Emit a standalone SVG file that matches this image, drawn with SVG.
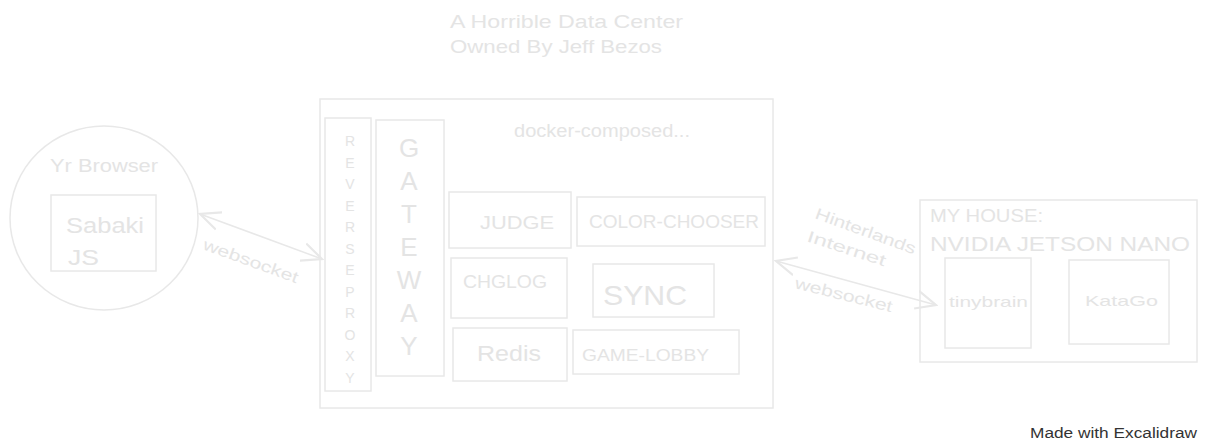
<svg xmlns="http://www.w3.org/2000/svg" width="1207" height="443" viewBox="0 0 1207 443">
<style>
.s{fill:none;stroke:#e8e8e8;stroke-width:1.5}
.t{fill:#e4e4e4;font-family:"Liberation Sans",Arial,sans-serif}
.c{text-anchor:middle}
</style>
<defs>
<marker id="ah" viewBox="0 0 12 12" refX="11" refY="6" markerWidth="22" markerHeight="22" markerUnits="userSpaceOnUse" orient="auto-start-reverse">
<path d="M0,1 L11,6 L0,11" fill="none" stroke="#e8e8e8" stroke-width="1.2"/>
</marker>
</defs>
<rect width="1207" height="443" fill="#ffffff"/>
<g id="title">
<text class="t" x="450" y="28" font-size="19" textLength="233" lengthAdjust="spacingAndGlyphs">A Horrible Data Center</text>
<text class="t" x="450" y="53" font-size="19" textLength="212" lengthAdjust="spacingAndGlyphs">Owned By Jeff Bezos</text>
</g>
<g id="browser">
<ellipse class="s" cx="104" cy="218" rx="94" ry="92"/>
<text class="t" x="50" y="172" font-size="18" textLength="108" lengthAdjust="spacingAndGlyphs">Yr Browser</text>
</g>
<g id="sabaki">
<rect class="s" x="51" y="195" width="105" height="76"/>
<text class="t" x="66" y="233" font-size="22" textLength="78" lengthAdjust="spacingAndGlyphs">Sabaki</text>
<text class="t" x="68" y="265" font-size="22" textLength="31" lengthAdjust="spacingAndGlyphs">JS</text>
</g>
<g id="datacenter">
<rect class="s" x="320" y="99" width="453" height="309"/>
<text class="t" x="514" y="137" font-size="18" textLength="176" lengthAdjust="spacingAndGlyphs">docker-composed...</text>
</g>
<g id="reverseproxy">
<rect class="s" x="325" y="118" width="46" height="273"/>
<text class="t c" font-size="14">
<tspan x="350" y="146">R</tspan><tspan x="350" y="167.5">E</tspan><tspan x="350" y="189">V</tspan><tspan x="350" y="210.5">E</tspan><tspan x="350" y="232">R</tspan><tspan x="350" y="253.5">S</tspan><tspan x="350" y="275">E</tspan><tspan x="350" y="296.5">P</tspan><tspan x="350" y="318">R</tspan><tspan x="350" y="339.5">O</tspan><tspan x="350" y="361">X</tspan><tspan x="350" y="382.5">Y</tspan>
</text>
</g>
<g id="gateway">
<rect class="s" x="376" y="120" width="68" height="256"/>
<text class="t c" font-size="26">
<tspan x="409" y="157">G</tspan><tspan x="409" y="190">A</tspan><tspan x="409" y="223">T</tspan><tspan x="409" y="256">E</tspan><tspan x="409" y="289">W</tspan><tspan x="409" y="322">A</tspan><tspan x="409" y="355">Y</tspan>
</text>
</g>
<g id="judge">
<rect class="s" x="449" y="192" width="122" height="56"/>
<text class="t" x="480" y="229" font-size="18" textLength="74" lengthAdjust="spacingAndGlyphs">JUDGE</text>
</g>
<g id="colorchooser">
<rect class="s" x="577" y="197" width="188" height="49"/>
<text class="t" x="589" y="228" font-size="18" textLength="170" lengthAdjust="spacingAndGlyphs">COLOR-CHOOSER</text>
</g>
<g id="chglog">
<rect class="s" x="451" y="258" width="116" height="60"/>
<text class="t" x="463" y="288" font-size="18" textLength="84" lengthAdjust="spacingAndGlyphs">CHGLOG</text>
</g>
<g id="sync">
<rect class="s" x="593" y="264" width="121" height="53"/>
<text class="t" x="603" y="305" font-size="28" textLength="84" lengthAdjust="spacingAndGlyphs">SYNC</text>
</g>
<g id="redis">
<rect class="s" x="453" y="328" width="114" height="53"/>
<text class="t" x="477" y="361" font-size="22" textLength="64" lengthAdjust="spacingAndGlyphs">Redis</text>
</g>
<g id="gamelobby">
<rect class="s" x="573" y="330" width="166" height="44"/>
<text class="t" x="582" y="361" font-size="17" textLength="127" lengthAdjust="spacingAndGlyphs">GAME-LOBBY</text>
</g>
<g id="myhouse">
<rect class="s" x="920" y="200" width="277" height="162"/>
<text class="t" x="930" y="222" font-size="18" textLength="113" lengthAdjust="spacingAndGlyphs">MY HOUSE:</text>
<text class="t" x="930" y="251" font-size="20" textLength="260" lengthAdjust="spacingAndGlyphs">NVIDIA JETSON NANO</text>
</g>
<g id="tinybrain">
<rect class="s" x="945" y="258" width="86" height="90"/>
<text class="t" x="949" y="307" font-size="15" textLength="79" lengthAdjust="spacingAndGlyphs">tinybrain</text>
</g>
<g id="katago">
<rect class="s" x="1069" y="260" width="100" height="84"/>
<text class="t" x="1085" y="306" font-size="15" textLength="73" lengthAdjust="spacingAndGlyphs">KataGo</text>
</g>
<g id="connectors">
<line class="s" x1="200" y1="214" x2="322" y2="259" marker-start="url(#ah)" marker-end="url(#ah)"/>
<text class="t" x="202" y="249" font-size="16" textLength="100" lengthAdjust="spacingAndGlyphs" transform="rotate(20 202 249)">websocket</text>
<line class="s" x1="776" y1="261" x2="936" y2="305" marker-start="url(#ah)" marker-end="url(#ah)"/>
<text class="t" x="794" y="288" font-size="16" textLength="100" lengthAdjust="spacingAndGlyphs" transform="rotate(14 794 288)">websocket</text>
<text class="t" x="814" y="218" font-size="16" textLength="106" lengthAdjust="spacingAndGlyphs" transform="rotate(20 814 218)">Hinterlands</text>
<text class="t" x="806" y="241" font-size="16" textLength="82" lengthAdjust="spacingAndGlyphs" transform="rotate(18 806 241)">Internet</text>
</g>
<text x="1030" y="438" font-size="14" fill="#333333" font-family="'Liberation Sans',Arial,sans-serif" textLength="167" lengthAdjust="spacingAndGlyphs">Made with Excalidraw</text>
</svg>
